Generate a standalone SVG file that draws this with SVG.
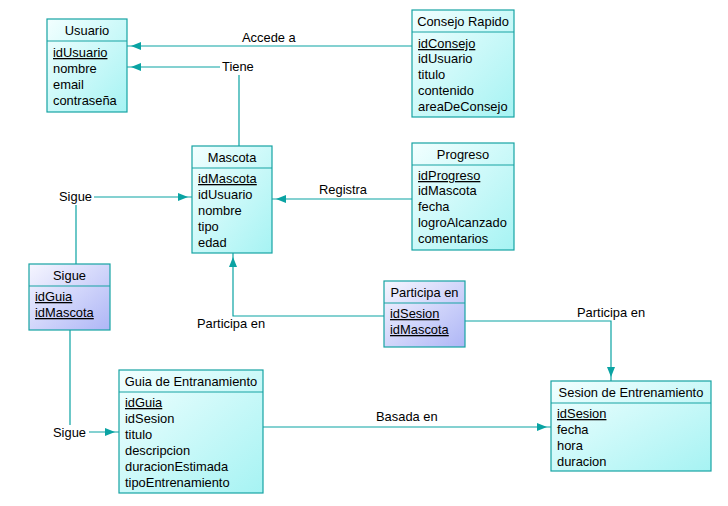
<svg xmlns="http://www.w3.org/2000/svg" width="728" height="506" viewBox="0 0 728 506">
<defs>
<linearGradient id="cy" x1="0" y1="0" x2="1" y2="1">
<stop offset="0" stop-color="#f2ffff"/>
<stop offset="1" stop-color="#a6f3f3"/>
</linearGradient>
<linearGradient id="lv" x1="0" y1="0" x2="1" y2="1">
<stop offset="0" stop-color="#f6f6ff"/>
<stop offset="1" stop-color="#aeb6f6"/>
</linearGradient>
<marker id="ar" viewBox="0 0 14 10" refX="14" refY="5" markerWidth="14" markerHeight="10" markerUnits="userSpaceOnUse" orient="auto">
<path d="M0,1 L10,5 L0,9 Z" fill="#0aa3a3"/>
</marker>
</defs>
<style>
text{font-family:"Liberation Sans",Arial,sans-serif;font-size:12.9px;fill:#000;}
.hd{text-anchor:middle;}
.pk{text-decoration:underline;}
.bx{stroke:#17a3a3;stroke-width:1.2;}
.sep{stroke:#17a3a3;stroke-width:1;}
.ln{fill:none;stroke:#0aa3a3;stroke-width:1.2;}
.lb{fill:#fff;}
</style>
<rect width="728" height="506" fill="#fff"/>
<g id="connectors">
<path class="ln" d="M412,46 H127" marker-end="url(#ar)"/>
<path class="ln" d="M239,146 V67 H127" marker-end="url(#ar)"/>
<path class="ln" d="M412,199 H272" marker-end="url(#ar)"/>
<path class="ln" d="M76,264 V197 H192" marker-end="url(#ar)"/>
<path class="ln" d="M70,330 V432 H119" marker-end="url(#ar)"/>
<path class="ln" d="M384,316 H233 V253" marker-end="url(#ar)"/>
<path class="ln" d="M465,321 H611 V381" marker-end="url(#ar)"/>
<path class="ln" d="M263,427 H551" marker-end="url(#ar)"/>
<rect class="lb" x="220" y="59" width="37" height="16"/>
<rect class="lb" x="57" y="189" width="37" height="16"/>
<rect class="lb" x="51" y="425" width="38" height="16"/>
<text x="242" y="42">Accede a</text>
<text x="222" y="71">Tiene</text>
<text x="319" y="194">Registra</text>
<text x="59" y="201">Sigue</text>
<text x="53" y="437">Sigue</text>
<text x="197" y="328">Participa en</text>
<text x="577" y="317">Participa en</text>
<text x="376" y="421">Basada en</text>
</g>
<g id="usuario">
<rect class="bx" x="47" y="19" width="80" height="93" fill="url(#cy)"/>
<line class="sep" x1="47" y1="41" x2="127" y2="41"/>
<text class="hd" x="87" y="35">Usuario</text>
<text class="pk" x="53" y="57">idUsuario</text>
<text x="53" y="73">nombre</text>
<text x="53" y="89">email</text>
<text x="53" y="105">contraseña</text>
</g>
<g id="consejo">
<rect class="bx" x="412" y="10" width="102" height="107" fill="url(#cy)"/>
<line class="sep" x1="412" y1="32" x2="514" y2="32"/>
<text class="hd" x="463" y="26">Consejo Rapido</text>
<text class="pk" x="418" y="48">idConsejo</text>
<text x="418" y="63">idUsuario</text>
<text x="418" y="79">titulo</text>
<text x="418" y="95">contenido</text>
<text x="418" y="111">areaDeConsejo</text>
</g>
<g id="mascota">
<rect class="bx" x="192" y="146" width="80" height="107" fill="url(#cy)"/>
<line class="sep" x1="192" y1="168" x2="272" y2="168"/>
<text class="hd" x="232" y="162">Mascota</text>
<text class="pk" x="198" y="183">idMascota</text>
<text x="198" y="199">idUsuario</text>
<text x="198" y="215">nombre</text>
<text x="198" y="231">tipo</text>
<text x="198" y="247">edad</text>
</g>
<g id="progreso">
<rect class="bx" x="412" y="143" width="102" height="107" fill="url(#cy)"/>
<line class="sep" x1="412" y1="165" x2="514" y2="165"/>
<text class="hd" x="463" y="159">Progreso</text>
<text class="pk" x="418" y="180">idProgreso</text>
<text x="418" y="195">idMascota</text>
<text x="418" y="211">fecha</text>
<text x="418" y="227">logroAlcanzado</text>
<text x="418" y="243">comentarios</text>
</g>
<g id="sigue">
<rect class="bx" x="29" y="264" width="81" height="66" fill="url(#lv)"/>
<line class="sep" x1="29" y1="286" x2="110" y2="286"/>
<text class="hd" x="69.5" y="280">Sigue</text>
<text class="pk" x="35" y="301">idGuia</text>
<text class="pk" x="35" y="317">idMascota</text>
</g>
<g id="participa">
<rect class="bx" x="384" y="281" width="81" height="66" fill="url(#lv)"/>
<line class="sep" x1="384" y1="303" x2="465" y2="303"/>
<text class="hd" x="424.5" y="297">Participa en</text>
<text class="pk" x="390" y="318">idSesion</text>
<text class="pk" x="390" y="334">idMascota</text>
</g>
<g id="guia">
<rect class="bx" x="119" y="370" width="144" height="123" fill="url(#cy)"/>
<line class="sep" x1="119" y1="392" x2="263" y2="392"/>
<text class="hd" x="191" y="386">Guia de Entranamiento</text>
<text class="pk" x="125" y="407">idGuia</text>
<text x="125" y="423">idSesion</text>
<text x="125" y="439">titulo</text>
<text x="125" y="455">descripcion</text>
<text x="125" y="471">duracionEstimada</text>
<text x="125" y="487">tipoEntrenamiento</text>
</g>
<g id="sesion">
<rect class="bx" x="551" y="381" width="160" height="90" fill="url(#cy)"/>
<line class="sep" x1="551" y1="403" x2="711" y2="403"/>
<text class="hd" x="631" y="397">Sesion de Entrenamiento</text>
<text class="pk" x="557" y="418">idSesion</text>
<text x="557" y="434">fecha</text>
<text x="557" y="450">hora</text>
<text x="557" y="466">duracion</text>
</g>
</svg>
